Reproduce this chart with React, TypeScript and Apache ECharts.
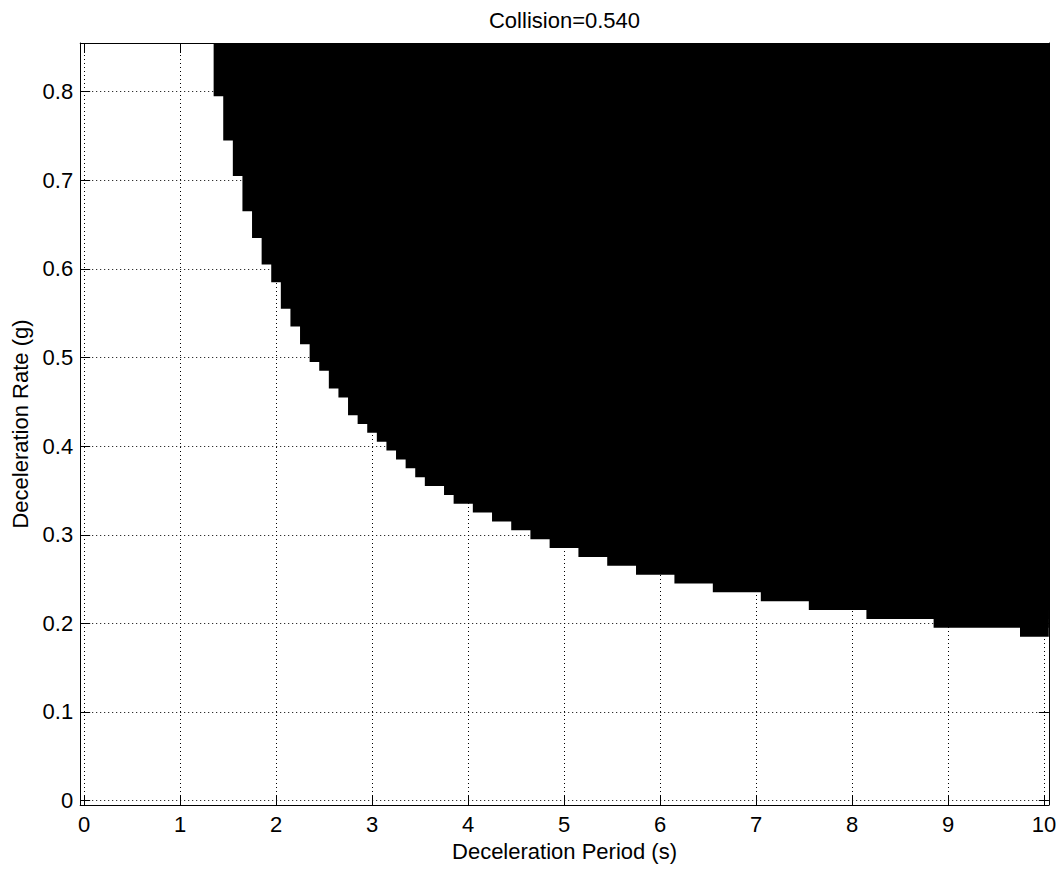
import React, { useEffect, useRef } from "react";
import * as echarts from "echarts";

const titleText = "Collision=0.540";
const xAxisName = "Deceleration Period (s)";
const yAxisName = "Deceleration Rate (g)";

const periodTicks = [0, 1, 2, 3, 4, 5, 6, 7, 8, 9, 10];
const rateTicks = [0, 0.1, 0.2, 0.3, 0.4, 0.5, 0.6, 0.7, 0.8];

const periodRange = [-0.04, 10.05];
const rateRange = [-0.005, 0.855];
const rateCellHeight = 0.01;

// For each step of the collision boundary: the lowest rate row of the step
// and the deceleration period from which that row (and all above it) collide.
const stepRates = [
  0.8, 0.75, 0.71, 0.67, 0.64, 0.61, 0.59, 0.56, 0.54, 0.52, 0.5, 0.49, 0.47,
  0.46, 0.44, 0.43, 0.42, 0.41, 0.4, 0.39, 0.38, 0.37, 0.36, 0.35, 0.34, 0.33,
  0.32, 0.31, 0.3, 0.29, 0.28, 0.27, 0.26, 0.25, 0.24, 0.23, 0.22, 0.21, 0.2,
  0.19,
];
const stepPeriods = [
  1.35, 1.45, 1.55, 1.65, 1.75, 1.85, 1.95, 2.05, 2.15, 2.25, 2.35, 2.45, 2.55,
  2.65, 2.75, 2.85, 2.95, 3.05, 3.15, 3.25, 3.35, 3.45, 3.55, 3.75, 3.85, 4.05,
  4.25, 4.45, 4.65, 4.85, 5.15, 5.45, 5.75, 6.15, 6.55, 7.05, 7.55, 8.15, 8.85,
  9.75,
];

const FONT = '"Liberation Sans", Arial, Helvetica, sans-serif';

export default function App() {
  const ref = useRef<HTMLDivElement>(null);

  useEffect(() => {
    if (!ref.current) return;
    const chart = echarts.init(ref.current, undefined, { renderer: "svg" });

    const axisColor = "#000";
    const labelStyle = {
      color: "#000",
      fontSize: 22,
      fontFamily: FONT,
    };
    const fmt = (v: number) => String(Math.round(v * 100) / 100);

    const option: any = {
      animation: false,
      backgroundColor: "#fff",
      grid: {
        left: 80.2,
        top: 43,
        width: 968.6,
        height: 762,
        containLabel: false,
        outerBoundsMode: "none",
      },
      graphic: [
        {
          type: "text",
          x: 564.5,
          y: 20.5,
          style: {
            text: titleText,
            fill: "#000",
            font: `22px ${FONT}`,
            align: "center",
            verticalAlign: "middle",
          },
        },
      ],
      xAxis: [
        {
          type: "value",
          position: "bottom",
          min: periodRange[0],
          max: periodRange[1],
          axisLine: { show: true, onZero: false, lineStyle: { color: axisColor, width: 1 } },
          axisTick: {
            show: true,
            inside: true,
            length: 10,
            customValues: periodTicks,
            lineStyle: { color: axisColor },
          },
          axisLabel: {
            show: true,
            customValues: periodTicks,
            margin: 8,
            formatter: fmt,
            ...labelStyle,
          },
          splitLine: {
            show: true,
            lineStyle: { color: "#000", width: 1, type: [1, 3] },
          },
          name: xAxisName,
          nameLocation: "middle",
          nameGap: 35,
          nameTextStyle: { ...labelStyle },
        },
        {
          type: "value",
          position: "top",
          min: periodRange[0],
          max: periodRange[1],
          axisLine: { show: true, onZero: false, lineStyle: { color: axisColor, width: 1 } },
          axisTick: {
            show: true,
            inside: true,
            length: 10,
            customValues: periodTicks,
            lineStyle: { color: axisColor },
          },
          axisLabel: { show: false },
          splitLine: { show: false },
        },
      ],
      yAxis: [
        {
          type: "value",
          position: "left",
          min: rateRange[0],
          max: rateRange[1],
          axisLine: { show: true, onZero: false, lineStyle: { color: axisColor, width: 1 } },
          axisTick: {
            show: true,
            inside: true,
            length: 10,
            customValues: rateTicks,
            lineStyle: { color: axisColor },
          },
          axisLabel: {
            show: true,
            customValues: rateTicks,
            margin: 7,
            formatter: fmt,
            ...labelStyle,
          },
          splitLine: {
            show: true,
            lineStyle: { color: "#000", width: 1, type: [1, 3] },
          },
          name: yAxisName,
          nameLocation: "middle",
          nameGap: 48,
          nameTextStyle: { ...labelStyle },
        },
        {
          type: "value",
          position: "right",
          min: rateRange[0],
          max: rateRange[1],
          axisLine: { show: true, onZero: false, lineStyle: { color: axisColor, width: 1 } },
          axisTick: {
            show: true,
            inside: true,
            length: 10,
            customValues: rateTicks,
            lineStyle: { color: axisColor },
          },
          axisLabel: { show: false },
          splitLine: { show: false },
        },
      ],
      series: [
        {
          type: "custom",
          xAxisIndex: 0,
          yAxisIndex: 0,
          clip: true,
          data: stepPeriods.map((p, i) => [p, stepRates[i]]),
          renderItem: (params: any, api: any) => {
            const x0 = api.value(0) as number;
            const r = api.value(1) as number;
            const tl = api.coord([x0, rateRange[1]]);
            const br = api.coord([periodRange[1], r - rateCellHeight / 2]);
            return {
              type: "rect",
              shape: {
                x: tl[0],
                y: tl[1],
                width: br[0] - tl[0],
                height: br[1] - tl[1],
              },
              style: { fill: "#000", stroke: "none" },
            };
          },
        },
      ],
    };

    chart.setOption(option);
    return () => {
      chart.dispose();
    };
  }, []);

  return (
    <div
      ref={ref}
      style={{
        position: "fixed",
        left: 0,
        top: 0,
        width: 1060,
        height: 869,
        background: "#fff",
      }}
    />
  );
}
